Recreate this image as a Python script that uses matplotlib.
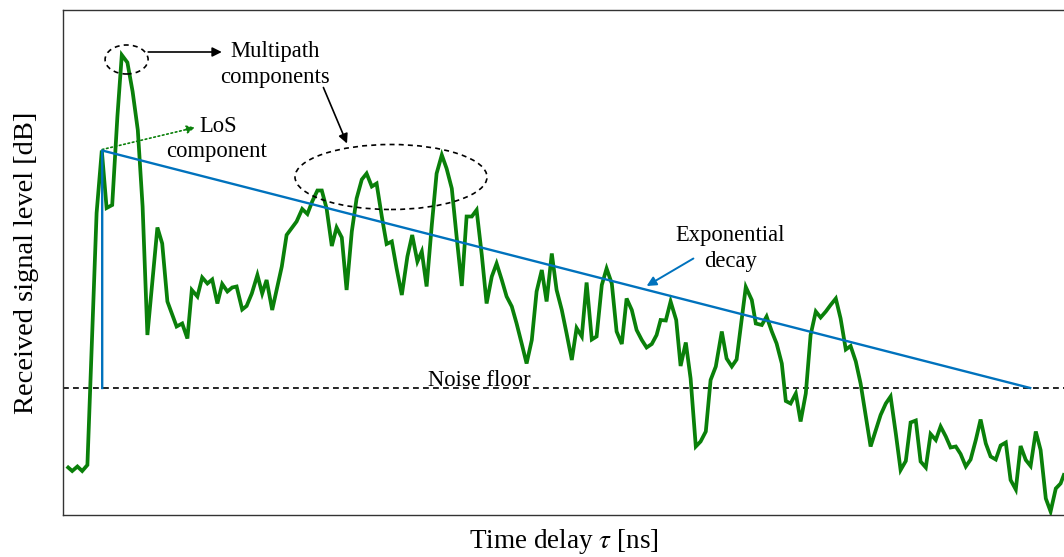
import matplotlib
matplotlib.use("Agg")
import matplotlib.pyplot as plt
from matplotlib.patches import Ellipse

plt.rcParams['font.family'] = ['Liberation Serif', 'DejaVu Serif']
plt.rcParams['mathtext.fontset'] = 'stix'

# ---- data ----
tau_ns = [1.3, 2.3, 3.6, 4.8, 6.1, 8.4, 9.7, 10.9, 12.3, 13.6, 14.7, 16.1, 17.4, 18.7, 19.9,
          21.1, 23.6, 24.8, 26.1, 28.4, 29.8, 31.1, 32.2, 33.6, 34.8, 36.1, 37.3, 38.6, 39.8,
          41.1, 42.3, 43.4, 44.8, 45.9, 47.2, 48.6, 49.8, 50.9, 52.3, 54.7, 55.9, 58.4, 59.8,
          61.1, 62.3, 63.6, 64.7, 65.9, 67.2, 68.4, 69.7, 70.9, 72.2, 73.4, 74.7, 75.9, 77.2,
          78.4, 79.7, 80.9, 82.2, 83.4, 84.7, 86.1, 87.3, 88.6, 89.7, 90.9, 92.2, 93.4, 94.7,
          95.9, 97.2, 98.4, 99.7, 100.9, 102.2, 103.4, 104.7, 105.9, 107.2, 108.4, 109.7,
          110.9, 112.2, 113.4, 114.7, 115.9, 117.2, 118.4, 119.7, 120.9, 122.2, 123.4, 124.7,
          125.9, 127.2, 128.4, 129.7, 130.9, 132.2, 133.4, 134.7, 135.9, 137.2, 138.4, 139.7,
          140.9, 142.2, 143.4, 144.7, 145.9, 147.2, 148.4, 149.4, 150.7, 151.9, 153.3, 154.4,
          155.7, 156.9, 158.2, 159.4, 160.7, 161.9, 163.2, 164.7, 165.9, 167.2, 168.4, 170.7,
          172.2, 173.2, 174.7, 175.9, 177.2, 178.4, 179.7, 180.7, 181.9, 183.2, 184.4, 185.7,
          186.9, 188.2, 189.4, 190.7, 191.9, 193.2, 194.4, 195.7, 196.9, 198.2, 199.4, 200.7,
          201.9, 203.2, 204.4, 205.7, 206.9, 208.2, 209.4, 210.7, 211.9, 213.2, 214.4, 215.7,
          216.9, 218.2, 219.4, 220.7, 221.9, 223.2, 224.4, 225.7, 226.9, 228.2, 229.4, 230.7,
          231.9, 233.2, 234.4, 235.7, 236.9, 238.2, 239.4, 240.7, 241.9, 243.2, 244.4, 245.7,
          246.9, 248.2, 249.4, 250.2]
level_db = [-91.5, -92.2, -91.3, -92.2, -91.0, -40.6, -28.1, -39.6, -39.0, -21.3, -9.0, -10.5,
            -16.3, -24.0, -39.3, -65.0, -43.5, -46.7, -58.3, -63.3, -62.7, -65.7, -56.0, -57.3,
            -53.5, -54.7, -53.9, -58.7, -54.8, -56.3, -55.5, -55.3, -59.9, -59.2, -56.7, -53.0,
            -56.7, -54.0, -60.0, -51.3, -45.0, -42.3, -39.8, -40.8, -38.3, -36.1, -36.1, -39.7,
            -47.2, -43.5, -45.5, -56.0, -44.3, -37.7, -33.9, -32.7, -35.3, -34.7, -41.3, -46.8,
            -46.3, -51.7, -57.0, -49.3, -45.0, -50.3, -48.3, -55.3, -43.0, -32.7, -29.0, -31.7,
            -35.7, -45.3, -55.2, -41.3, -41.3, -40.0, -49.0, -58.7, -53.3, -50.7, -54.0, -57.3,
            -59.3, -62.7, -66.8, -70.7, -66.0, -56.3, -52.0, -58.3, -48.7, -56.0, -60.0, -64.7,
            -70.0, -63.6, -65.3, -54.5, -65.9, -65.3, -55.0, -51.7, -54.7, -64.3, -66.8, -57.7,
            -60.0, -64.0, -66.0, -67.5, -66.8, -65.0, -62.0, -62.1, -58.3, -62.0, -71.2, -66.5,
            -73.7, -87.3, -86.3, -84.3, -74.0, -71.3, -64.3, -69.7, -71.3, -69.9, -55.4, -58.0,
            -62.7, -63.0, -61.3, -64.3, -66.7, -70.7, -78.2, -78.7, -76.7, -82.3, -76.7, -65.0,
            -60.3, -61.5, -60.3, -59.0, -57.7, -61.7, -67.9, -67.2, -70.3, -74.7, -81.3, -87.3,
            -84.0, -81.0, -78.7, -77.3, -84.7, -92.0, -90.2, -82.5, -82.1, -90.3, -91.5, -84.8,
            -86.0, -83.3, -85.3, -87.5, -87.3, -88.8, -91.3, -89.9, -86.0, -81.9, -86.7, -89.3,
            -89.9, -87.1, -86.5, -94.0, -95.9, -87.2, -90.0, -91.2, -84.3, -88.0, -97.7, -100.3,
            -95.7, -94.7, -93.0]

los_tau = 9.8
los_level = -28.1
noise_floor_db = -75.6
decay_end_tau = 241.8

decay_tau = [los_tau, los_tau, decay_end_tau]
decay_level = [noise_floor_db, los_level, noise_floor_db]

# ---- figure ----
fig = plt.figure(figsize=(10.64, 5.57), dpi=100)
ax = fig.add_axes([63 / 1064, 42 / 557, 1 - 63 / 1064, 505 / 557])
ax.set_xlim(0, 250.25)
ax.set_ylim(-101, 0)
ax.set_xticks([])
ax.set_yticks([])
for s in ['left', 'bottom', 'top']:
    ax.spines[s].set_color('#333333')
    ax.spines[s].set_linewidth(1.0)
ax.spines['right'].set_visible(False)

# noise floor
ax.axhline(noise_floor_db, color='black', lw=1.2, ls=(0, (3.5, 2.5)), zorder=1)

# measured signal
ax.plot(tau_ns, level_db, color='#0a800a', lw=2.7, zorder=3, solid_joinstyle='miter')

# exponential decay model
ax.plot(decay_tau, decay_level, color='#0072BD', lw=1.7, zorder=4)

# ellipses
ax.add_patch(Ellipse((15.9, -9.9), 10.75, 5.8, fill=False, ec='black', lw=1.2,
                     ls=(0, (3, 2.5)), zorder=5))
ax.add_patch(Ellipse((82.0, -33.4), 48.0, 13.0, fill=False, ec='black', lw=1.2,
                     ls=(0, (3, 2.5)), zorder=5))

fs = 16.3
# Multipath annotation
ax.text(53.0, -8.3, 'Multipath', ha='center', va='center', fontsize=fs)
ax.text(52.9, -13.4, 'components', ha='center', va='center', fontsize=fs)
ax.annotate('', xy=(39.7, -8.4), xytext=(21.3, -8.4),
            arrowprops=dict(arrowstyle='-|>', color='black', lw=1.2,
                            mutation_scale=14, shrinkA=0, shrinkB=0))
ax.annotate('', xy=(71.0, -26.7), xytext=(65.1, -15.5),
            arrowprops=dict(arrowstyle='-|>', color='black', lw=1.2,
                            mutation_scale=14, shrinkA=0, shrinkB=0))

# LoS annotation
ax.text(38.8, -23.3, 'LoS', ha='center', va='center', fontsize=fs)
ax.text(38.3, -28.3, 'component', ha='center', va='center', fontsize=fs)
ax.annotate('', xy=(33.0, -23.5), xytext=(los_tau, los_level + 0.2),
            arrowprops=dict(arrowstyle='-|>', color='#0a800a', lw=1.2, ls=':',
                            mutation_scale=12, shrinkA=0, shrinkB=0))

# Exponential decay annotation
ax.text(166.8, -45.0, 'Exponential', ha='center', va='center', fontsize=fs)
ax.text(166.8, -50.3, 'decay', ha='center', va='center', fontsize=fs)
ax.annotate('', xy=(145.9, -55.2), xytext=(157.6, -49.7),
            arrowprops=dict(arrowstyle='-|>', color='#0072BD', lw=1.4,
                            mutation_scale=14, shrinkA=0, shrinkB=0))

# Noise floor label
ax.text(104.0, -74.0, 'Noise floor', ha='center', va='center', fontsize=fs)

ax.set_xlabel(r'Time delay $\tau$ [ns]', fontsize=19.5, labelpad=9)
ax.set_ylabel('Received signal level [dB]', fontsize=20.5, labelpad=17)

fig.savefig('out.png', dpi=100)
